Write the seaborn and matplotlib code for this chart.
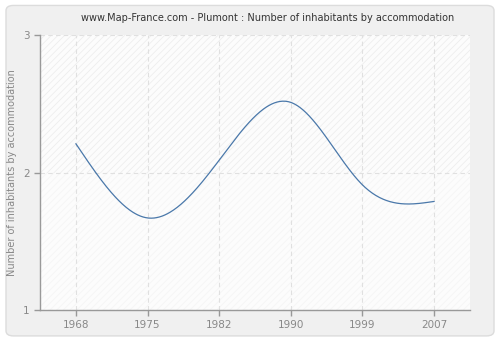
import numpy as np
import pandas as pd
import matplotlib
matplotlib.use("Agg")
import matplotlib.pyplot as plt
from matplotlib.patches import FancyBboxPatch, Rectangle
import seaborn as sns

years = ["1968", "1975", "1982", "1990", "1999", "2007"]
values = [2.21, 1.67, 2.09, 2.51, 1.91, 1.79]
y_ticks = [1, 2, 3]
title = "www.Map-France.com - Plumont : Number of inhabitants by accommodation"
y_label = "Number of inhabitants by accommodation"


def natural_spline(x, y, n=400):
    x = np.asarray(x, float)
    y = np.asarray(y, float)
    k = len(x)
    h = np.diff(x)
    A = np.zeros((k, k))
    b = np.zeros(k)
    A[0, 0] = 1
    A[-1, -1] = 1
    for i in range(1, k - 1):
        A[i, i - 1] = h[i - 1]
        A[i, i] = 2 * (h[i - 1] + h[i])
        A[i, i + 1] = h[i]
        b[i] = 3 * ((y[i + 1] - y[i]) / h[i] - (y[i] - y[i - 1]) / h[i - 1])
    c = np.linalg.solve(A, b)
    xs = np.linspace(x[0], x[-1], n)
    ys = np.empty_like(xs)
    for j, xv in enumerate(xs):
        i = min(np.searchsorted(x, xv, side="right") - 1, k - 2)
        bi = (y[i + 1] - y[i]) / h[i] - h[i] * (2 * c[i] + c[i + 1]) / 3
        di = (c[i + 1] - c[i]) / (3 * h[i])
        t = xv - x[i]
        ys[j] = y[i] + bi * t + c[i] * t ** 2 + di * t ** 3
    return xs, ys


sns.set_theme(style="white")
plt.rcParams["font.family"] = ["DejaVu Sans"]
plt.rcParams["hatch.linewidth"] = 0.5

fig = plt.figure(figsize=(5, 3.4), dpi=100)
fig.patch.set_facecolor("white")
fig.patches.append(FancyBboxPatch((0.012, 0.012), 0.976, 0.972,
                                  boxstyle="round,pad=0,rounding_size=0.015",
                                  transform=fig.transFigure, facecolor="#f0f0f0",
                                  edgecolor="#dcdcdc", linewidth=1, zorder=-10))

ax = fig.add_axes([0.08, 0.088, 0.86, 0.809])
ax.set_facecolor("#fcfcfc")

idx = np.arange(len(years))
xs, ys = natural_spline(idx, values)
df = pd.DataFrame({"x": xs, "y": ys})

ax.add_patch(Rectangle((-0.5, 2), 6, 1, facecolor="none", edgecolor="#ebebeb",
                       hatch="/////", linewidth=0, zorder=0))
ax.add_patch(Rectangle((-0.5, 1), 6, 1, facecolor="none", edgecolor="#f4f4f4",
                       hatch="/////", linewidth=0, zorder=0))

sns.lineplot(data=df, x="x", y="y", ax=ax, color="#4a78aa", linewidth=0.9, zorder=3)

ax.set_xlim(-0.5, 5.5)
ax.set_ylim(1, 3)
ax.set_xticks(idx)
ax.set_xticklabels(years)
ax.set_yticks(y_ticks)
ax.set_yticklabels([str(v) for v in y_ticks])

for xv in idx:
    ax.axvline(xv, color="#e0e0e0", linestyle=(0, (4, 3)), linewidth=0.8, zorder=1)
for yv in y_ticks:
    ax.axhline(yv, color="#e0e0e0", linestyle=(0, (4, 3)), linewidth=0.8, zorder=1)

for s in ["top", "right"]:
    ax.spines[s].set_visible(False)
for s in ["left", "bottom"]:
    ax.spines[s].set_color("#999999")
    ax.spines[s].set_linewidth(1)

ax.tick_params(axis="both", colors="#999999", labelcolor="#888888", labelsize=7.5,
               length=4, width=1, direction="out", bottom=True, left=True)
ax.set_xlabel("")
ax.set_ylabel(y_label, color="#888888", fontsize=7)
fig.text(0.535, 0.948, title, fontsize=7.0, color="#333333", ha="center", va="center")

fig.savefig("out.png", dpi=100, facecolor=fig.get_facecolor())
